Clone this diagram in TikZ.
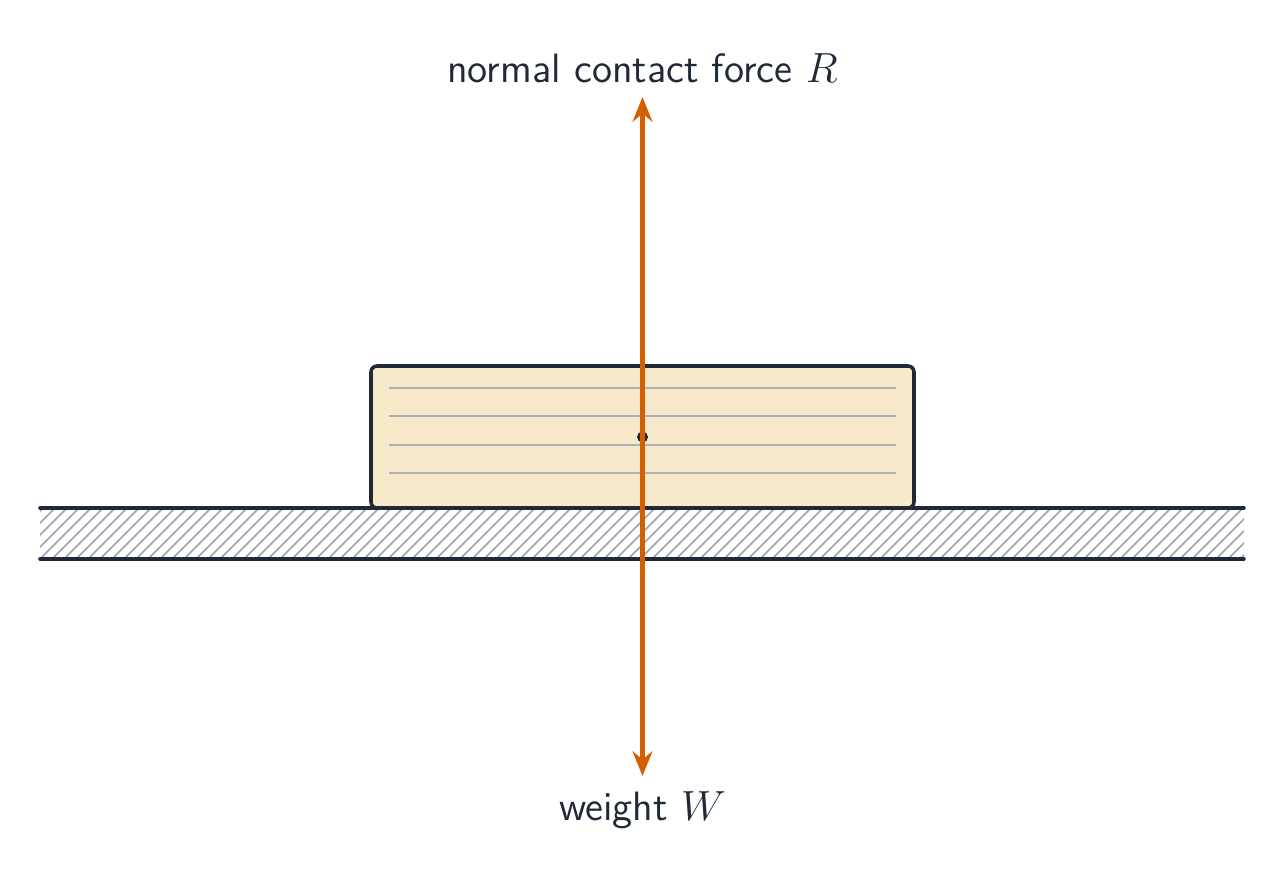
\documentclass[tikz,border=0pt]{standalone}
\usepackage{amsmath}
\usepackage{xcolor}
\usepackage{tikz}
\usetikzlibrary{arrows.meta,positioning}

\definecolor{ink}{HTML}{1F2937}
\definecolor{forceorange}{RGB}{211,95,0}
\definecolor{blockfill}{HTML}{F8E9CA}
\definecolor{hatchgray}{HTML}{9CA3AF}

\begin{document}
\begin{tikzpicture}[
    font=\sffamily\fontsize{11.65}{14}\selectfont,
    text=ink,
    ground/.style={draw=ink, line width=1pt, line cap=round},
    hatch/.style={draw=hatchgray, line width=0.45pt},
    block/.style={rectangle, draw=ink, fill=blockfill, line width=1pt, rounded corners=0.06cm, minimum width=5.43cm, minimum height=1.42cm, inner sep=0pt},
    grain/.style={draw=hatchgray!85, line width=0.5pt},
    cg/.style={circle, fill=ink, minimum size=0.11cm, inner sep=0pt},
    force/.style={-{Stealth[length=7pt, width=5.6pt]}, draw=forceorange, line width=1.2pt}
]
\useasboundingbox (0,0) rectangle (12.86,8.82);

% Ground
\coordinate (gtl) at (0.40,3.74);
\coordinate (gtr) at (12.44,3.74);
\coordinate (gbl) at (0.40,3.23);
\coordinate (gbr) at (12.44,3.23);
\begin{scope}
    \clip (gbl) rectangle (gtr);
    \foreach \x in {-0.2,-0.08,...,12.5}
        \draw[hatch] (\x,3.23) -- ++(0.51,0.51);
\end{scope}
\draw[ground] (gtl) -- (gtr);
\draw[ground] (gbl) -- (gbr);

% Block resting on the ground
\node[block] (block) at (6.425,4.45) {};
\foreach \y in {0.49,0.21,-0.08,-0.36}
    \draw[grain] ([xshift=0.2cm, yshift=\y cm]block.west) -- ([xshift=-0.2cm, yshift=\y cm]block.east);
\node[cg] (G) at (block.center) {};

% Forces
\coordinate (Rtip) at (6.425,7.85);
\coordinate (Wtip) at (6.425,1.06);
\node[above=0.02cm of Rtip] (Rlabel) {normal contact force $R$};
\node[below=0.03cm of Wtip] (Wlabel) {weight $W$};
\draw[force] (G.center) -- (Rtip);
\draw[force] (G.center) -- (Wtip);

\end{tikzpicture}
\end{document}
